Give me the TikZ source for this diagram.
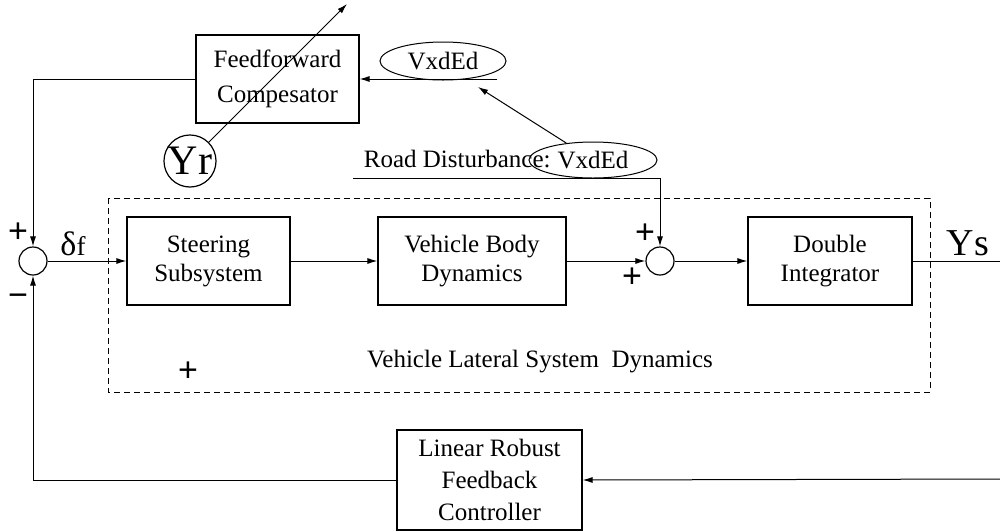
\documentclass[tikz,border=0pt]{standalone}
\usepackage{fontspec}
\setmainfont{Liberation Serif}
\setsansfont{Liberation Sans}
\usetikzlibrary{arrows.meta,shapes.geometric}
\tikzset{
block/.style={draw, line width=0.6pt, align=center, inner sep=0pt, font=\fontsize{12.5}{14.5}\selectfont},
sumnode/.style={draw, circle, line width=0.6pt, minimum size=14pt, inner sep=0pt},
oval/.style={draw, ellipse, line width=0.5pt, inner sep=0pt, font=\fontsize{12.5}{15}\selectfont},
sign/.style={inner sep=0pt, font=\sffamily\fontsize{17}{17}\selectfont},
lbl/.style={inner sep=0pt, font=\fontsize{12.5}{15}\selectfont},
sig/.style={-{Latex[length=5pt,width=3pt]}, line width=0.5pt},
wire/.style={line width=0.5pt}
}
\begin{document}
\begin{tikzpicture}[x=0.5pt,y=-0.5pt]
\useasboundingbox (0,0) rectangle (1000,531);
\draw[line width=0.5pt, dash pattern=on 3pt off 2pt] (108,198) rectangle (930,392);
\node[block, minimum width=81.5pt, minimum height=44pt, font=\fontsize{12.5}{17.5}\selectfont] (ff) at (277.5,79) {Feedforward\\Compesator};
\node[oval, minimum width=63pt, minimum height=19pt] (vxd1) at (443,61) {VxdEd};
\node[oval, minimum width=64pt, minimum height=18pt] (vxd2) at (593,160) {VxdEd};
\node[lbl, anchor=base east] (road) at (551,167) {Road Disturbance:};
\node[draw, circle, line width=0.6pt, minimum size=26pt, inner sep=0pt, font=\fontsize{21}{21}\selectfont] (yr) at (190,161) {Yr};
\node[sumnode] (sum1) at (33,261) {};
\node[sumnode] (sum2) at (660,261) {};
\node[block, minimum width=81.5pt, minimum height=44pt] (steer) at (208.5,261) {Steering\\Subsystem};
\node[block, minimum width=94pt, minimum height=44pt] (body) at (472,261) {Vehicle Body\\Dynamics};
\node[block, minimum width=82pt, minimum height=44pt] (dint) at (830,261) {Double\\Integrator};
\node[block, minimum width=92.5pt, minimum height=50pt, font=\fontsize{12.5}{16}\selectfont] (lrf) at (489.5,480) {Linear Robust\\Feedback\\Controller};
\node[lbl] (vlsd) at (540,362) {Vehicle Lateral System\ \ Dynamics};
\node[inner sep=0pt, anchor=base] (delta) at (73,255) {\fontsize{17}{17}\selectfont δ\fontsize{13.5}{13.5}\selectfont f};
\node[inner sep=0pt, anchor=base, font=\fontsize{19}{19}\selectfont] (ys) at (968,255) {Ys};
\node[sign] (p1) at (18,233) {+};
\node[sign] (m1) at (18,300) {−};
\node[sign] (p2) at (645,234) {+};
\node[sign] (p3) at (632,278) {+};
\node[sign] (p4) at (188,372) {+};
\coordinate (vxdin) at (497,79);
\coordinate (vxdtip) at (478,87);
\coordinate (distin) at (353,178);
\coordinate (yrtip) at (347,4);
\coordinate (yout) at (1000,261);
\coordinate (fbin) at (1000,479);
\draw[sig] (vxdin) -- (ff.east);
\draw[sig] (vxd2) -- (vxdtip);
\draw[sig] (yr) -- (yrtip);
\draw[sig] (ff.west) -| (sum1.north);
\draw[sig] (sum1.east) -- (steer.west);
\draw[sig] (steer.east) -- (body.west);
\draw[sig] (body.east) -- (sum2.west);
\draw[sig] (sum2.east) -- (dint.west);
\draw[sig] (distin) -| (sum2.north);
\draw[wire] (dint.east) -- (yout);
\draw[sig] (fbin) -- (lrf.east);
\draw[sig] (lrf.west) -| (sum1.south);
\end{tikzpicture}
\end{document}
